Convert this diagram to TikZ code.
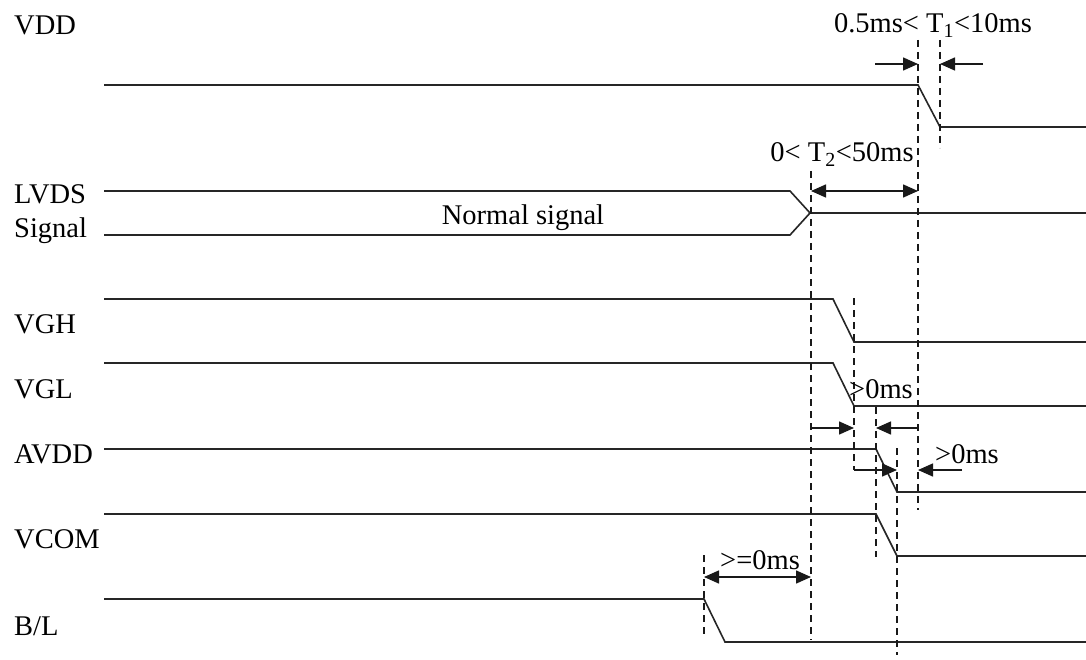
\documentclass[tikz,border=0pt]{standalone}
\usepackage{fontspec}
\setmainfont{Liberation Serif}
\usetikzlibrary{arrows.meta}
\tikzset{
  wave/.style={line width=1.6pt,draw=black!85},
  guide/.style={line width=1.4pt,dash pattern=on 7pt off 5pt,draw=black!90},
  span/.style={line width=1.5pt,draw=black!90,-{Triangle[length=15pt,width=13pt]}},
  twoway/.style={line width=1.5pt,draw=black!90,
    {Triangle[length=15pt,width=13pt]}-{Triangle[length=15pt,width=13pt]}},
  signame/.style={anchor=base west,inner sep=0pt},
  note/.style={anchor=base,inner sep=0pt}
}

\begin{document}
\begin{tikzpicture}[x=1pt,y=-1pt,font=\fontsize{28.5}{33}\selectfont]
      \useasboundingbox (0,0) rectangle (1086,660);

      \node[signame] (vdd) at (14,35) {VDD};
      \node[signame] (lvds) at (14,204) {LVDS};
      \node[signame] (signal) at (14,238) {Signal};
      \node[signame] (vgh) at (14,333) {VGH};
      \node[signame] (vgl) at (14,398) {VGL};
      \node[signame] (avdd) at (14,463) {AVDD};
      \node[signame] (vcom) at (14,548) {VCOM};
      \node[signame] (bl) at (14,635) {B/L};

      \draw[wave] (104,85) -- (918,85) -- (940,127) -- (1086,127);
      \draw[wave] (104,191) -- (790,191) -- (810,213) -- (790,235) -- (104,235);
      \draw[wave] (810,213) -- (1086,213);
      \node[note] (normal) at (523,225) {Normal signal};
      \draw[wave] (104,299) -- (833,299) -- (854,342) -- (1086,342);
      \draw[wave] (104,363) -- (833,363) -- (854,406) -- (1086,406);
      \draw[wave] (104,449) -- (876,449) -- (897,492) -- (1086,492);
      \draw[wave] (104,514) -- (876,514) -- (897,556) -- (1086,556);
      \draw[wave] (104,599) -- (704,599) -- (725,642) -- (1086,642);

      \draw[guide] (918,40) -- (918,510);
      \draw[guide] (940,40) -- (940,148);
      \draw[guide] (811,171) -- (811,640);
      \draw[guide] (854,298) -- (854,470);
      \draw[guide] (876,407) -- (876,557);
      \draw[guide] (897,448) -- (897,655);
      \draw[guide] (704,555) -- (704,637);

      \coordinate (t1a) at (875,64);
      \coordinate (t1b) at (918,64);
      \coordinate (t1c) at (940,64);
      \coordinate (t1d) at (983,64);
      \coordinate (t2a) at (811,191);
      \coordinate (t2b) at (918,191);
      \coordinate (gla) at (811,428);
      \coordinate (glb) at (854,428);
      \coordinate (glc) at (876,428);
      \coordinate (gld) at (918,428);
      \coordinate (ava) at (854,470);
      \coordinate (avb) at (897,470);
      \coordinate (avc) at (918,470);
      \coordinate (avd) at (962,470);
      \coordinate (bla) at (704,577);
      \coordinate (blb) at (811,577);

      \draw[span] (t1a) -- (t1b);
      \draw[span] (t1d) -- (t1c);
      \node[note] (t1) at (933,33) {0.5ms< T\textsubscript{1}<10ms};
      \draw[twoway] (t2a) -- (t2b);
      \node[note] (t2) at (842,162) {0< T\textsubscript{2}<50ms};
      \draw[span] (gla) -- (glb);
      \draw[span] (gld) -- (glc);
      \node[note] (glgap) at (881,398) {>0ms};
      \draw[span] (ava) -- (avb);
      \draw[span] (avd) -- (avc);
      \node[note] (avgap) at (967,463) {>0ms};
      \draw[twoway] (bla) -- (blb);
      \node[note] (blgap) at (760,569) {>=0ms};
    \end{tikzpicture}
\end{document}
